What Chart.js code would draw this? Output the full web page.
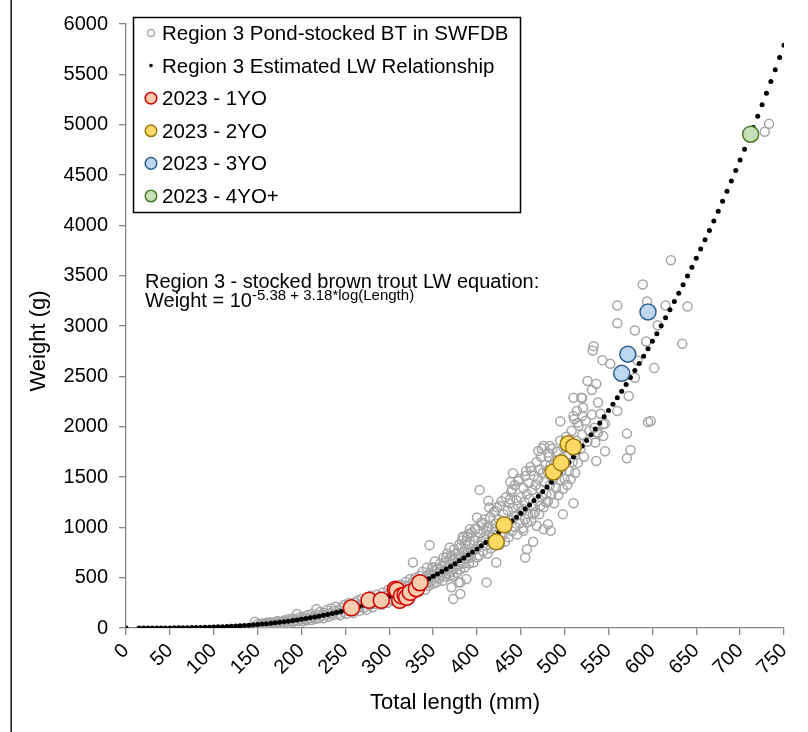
<!DOCTYPE html>
<html>
<head>
<meta charset="utf-8">
<script src="https://cdn.jsdelivr.net/npm/chart.js@4.4.0/dist/chart.umd.min.js"></script>
<style>
  html, body { margin: 0; padding: 0; background: #fff; }
</style>
</head>
<body>
<canvas id="chart" width="808" height="732"></canvas>
<script>
// Estimated LW relationship (every 5 mm)
const lwLength = [0, 15, 20, 25, 30, 35, 40, 45, 50, 55, 60, 65, 70, 75, 80, 85, 90, 95, 100,
  105, 110, 115, 120, 125, 130, 135, 140, 145, 150, 155, 160, 165, 170, 175, 180, 185, 190, 195, 200,
  205, 210, 215, 220, 225, 230, 235, 240, 245, 250, 255, 260, 265, 270, 275, 280, 285, 290, 295, 300,
  305, 310, 315, 320, 325, 330, 335, 340, 345, 350, 355, 360, 365, 370, 375, 380, 385, 390, 395, 400,
  405, 410, 415, 420, 425, 430, 435, 440, 445, 450, 455, 460, 465, 470, 475, 480, 485, 490, 495, 500,
  505, 510, 515, 520, 525, 530, 535, 540, 545, 550, 555, 560, 565, 570, 575, 580, 585, 590, 595, 600,
  605, 610, 615, 620, 625, 630, 635, 640, 645, 650, 655, 660, 665, 670, 675, 680, 685, 690, 695, 700,
  705, 710, 715, 720, 725, 730, 735, 740, 745, 750];
const lwWeight = [0, 0.02, 0.06, 0.12, 0.21, 0.34, 0.52, 0.75, 1.05, 1.43, 1.88, 2.43, 3.07, 3.83, 4.7, 5.7, 6.83, 8.11, 9.55,
  11.2, 12.9, 14.9, 17.1, 19.4, 22, 24.8, 27.8, 31.1, 34.7, 38.5, 42.6, 47, 51.6, 56.6, 61.9, 67.5, 73.5, 79.9, 86.6,
  93.6, 101, 109, 117, 126, 135, 145, 155, 165, 176, 188, 199, 212, 225, 238, 252, 267, 282, 298, 314,
  331, 349, 367, 386, 405, 426, 446, 468, 490, 513, 537, 561, 586, 612, 639, 667, 695, 724, 754, 785,
  816, 849, 882, 916, 951, 987, 1024, 1062, 1101, 1141, 1181, 1223, 1266, 1310, 1355, 1401, 1448, 1496, 1545, 1595,
  1646, 1699, 1752, 1807, 1863, 1920, 1978, 2037, 2098, 2160, 2223, 2287, 2353, 2420, 2488, 2557, 2628, 2700, 2774, 2848,
  2924, 3002, 3081, 3161, 3243, 3326, 3411, 3497, 3584, 3673, 3764, 3856, 3949, 4044, 4141, 4239, 4339, 4441, 4544, 4649,
  4755, 4863, 4972, 5083, 5197, 5311, 5428, 5546, 5666, 5788];

// Pond-stocked BT in SWFDB [length mm, weight g]
const pondSmall = [
  [147,62],[150,40],[152,28],[155,45],[157,36],[160,52],[162,40],[164,58],[166,44],[168,36],[170,60],[171,48],
  [173,70],[175,52],[176,23],[178,64],[180,48],[181,78],[183,60],[185,86],[186,52],[188,72],[190,95],[191,62],
  [193,80],[195,139],[196,70],[198,104],[199,84],[201,66],[202,112],[204,92],[206,76],[207,126],[209,98],[211,80],
  [212,140],[214,110],[216,90],[217,188],[218,128],[220,100],[221,160],[223,122],[225,96],[226,150],[228,130],[229,178],
  [231,112],[233,150],[234,196],[236,128],[238,170],[239,210],[241,140],[243,182],[244,126],[246,200],[248,160],[249,232],
  [251,142],[253,200],[254,248],[256,168],[258,222],[259,150],[261,250],[263,190],[264,272],[266,170],[268,235],[269,290],
  [271,200],[273,262],[274,180],[276,300],[278,225],[279,320],[281,205],[283,280],[284,240],[286,330],[288,250],[289,300],
  [291,230],[293,352],[294,275],[296,320],[298,250],[299,380],[301,290],[303,350],[304,270],[306,400],[308,320],[309,370],
  [311,290],[313,430],[314,345],[316,395],[318,300],[319,460],[321,360],[323,420],[324,486],[327,651],[318,420],[320,320]
];
const pondMid = [
  [324,350],[327,455],[329,395],[330,500],[332,430],[334,365],[335,520],[336,470],
  [337,410],[338,560],[339,470],[341,380],[342,515],[343,600],[344,450],[345,420],[346,545],[347,495],
  [348,470],[349,600],[350,440],[351,530],[352,660],[353,500],[354,455],[355,590],[356,545],[357,490],[358,640],
  [359,520],[360,610],[361,470],[362,700],[363,570],[364,650],[365,510],[366,740],[367,600],[368,545],[369,690],
  [370,560],[371,720],[372,640],[373,510],[374,780],[375,600],[376,690],[377,550],[378,740],[379,620],[380,830],
  [381,580],[382,700],[383,870],[384,640],[385,760],[386,600],[387,820],[388,690],[389,910],[390,760],[391,640],
  [392,830],[393,700],[394,950],[395,760],[396,650],[397,870],[398,780],[399,990],[400,700],[401,900],[402,820],
  [403,720],[404,940],[405,860],[406,1030],[407,760],[408,900],[409,1080],[410,820],[411,960],[412,740],[413,1010],
  [414,860],[415,1100],[416,790],[417,990],[418,930],[419,1150],[420,830],[421,1040],[422,960],[423,1200],[424,880],
  [425,1080],[426,830],[427,1010],[428,1260],[429,920],[430,1130],[431,1050],[432,860],[433,1300],[434,990],[435,1170],
  [436,900],[437,1240],[438,1070],[439,1350],[440,960],[441,1190],[442,1110],[443,1420],[444,1000],[445,1270],[446,930],
  [447,1210],[448,1480],[449,1040],[450,1300],[451,1160],[452,990],[453,1390],[454,1250],[455,1080],[456,1560],[457,1330],
  [458,1130],[459,1440],[460,1280],[461,1600],[462,1060],[463,1370],[464,1210],[465,1510],[466,1150],[467,1420],[468,1650],
  [469,1260],[470,1480],[471,1130],[472,1380],[473,1700],[474,1300],[475,1540],[476,1200],[477,1450],[478,1620],[479,1330],
  [480,1560],[481,1260],[482,1700],[483,1420],[484,1620],[485,1330],[486,1780],[487,1480],[488,1240],[489,1660],[490,1390],
  [491,1590],[492,1750],[493,1320],[494,1470],[495,1860],[496,1560],[497,1690],[498,1380],[499,1790],[500,1480],[501,1640],
  [502,1900],[503,1420],[504,1720],[505,1560],[506,1830],[507,1480],[508,1960],[509,1650],[511,1740],[512,1540],
  [513,1860],[515,1640],[516,2010],[518,1780],[520,1920],[522,1700],[524,2060],[526,1850],[528,1960],[531,2120],[534,1990],[538,2240]
];
const pondSpread = [
  [346,823],[345,486],[350,602],[354,585],[358,585],[365,701],[369,800],[369,519],[371,404],[373,288],[373,684],
  [379,453],[381,337],[381,453],[381,651],[381,800],[384,899],[384,909],[388,486],[388,866],[390,717],[390,932],
  [392,982],[398,982],[400,1098],[403,1372],[405,1048],[411,453],[411,998],[413,1263],[414,1197],[421,1163],[422,651],
  [426,1213],[438,1279],[438,1451],[440,1379],[441,1537],[445,1114],[447,1461],[453,1180],[453,965],[455,1510],[455,701],
  [457,1048],[457,783],[462,1560],[464,1131],[464,856],[468,1015],[470,1758],[472,1577],[472,1213],[474,1782],[476,1808],
  [476,982],[479,1247],[481,1742],[481,1031],[483,1808],[484,965],[495,2053],[498,1131],[510,1240],[510,2105],[510,2288],
  [511,2073],[514,2155],[515,2040],[520,2105],[521,2189],[519,2288],[520,2284],[526,2453],[531,2363],[532,2757],[533,2800],
  [535,1842],[536,1659],[536,2427],[537,1934],[538,1941],[541,2129],[543,2661],[544,2023],[544,1907],[546,1755],[546,2030],
  [552,2625],[560,2155],[560,3028],[560,3203],[571,1686],[571,1931],[573,2304],[575,1768],[580,2486],[580,2955],[583,2658],
  [589,3412],[593,2846],[594,3243],[595,2046],[598,2056],[602,2582],[606,3008],[615,3203],[621,3653],[634,2823],[640,3193],
  [728,4929],[733,5008]
];

// 2023 samples by age [length mm, weight g]
const age1 = [[257,200],[277,275],[291,275],[307,385],[309,375],[312,275],[314,320],[318,330],[320,305],[324,355],[331,390],[335,450]];
const age2 = [[422,856],[431,1025],[487,1550],[496,1640],[504,1830],[510,1800]];
const age3 = [[565,2530],[572,2720],[595,3140]];
const age4 = [[712,4905]];

const FONT = "'Liberation Sans', Arial, sans-serif";
const toXY = arr => arr.map(p => ({ x: p[0], y: p[1] }));

// legend box, equation text, y title and left frame line
const overlayPlugin = {
  id: 'overlay',
  afterDraw(chart) {
    const ctx = chart.ctx;
    ctx.save();
    ctx.fillStyle = '#000';
    ctx.fillRect(10.5, 0, 1.4, 732);

    // legend
    ctx.strokeStyle = '#000';
    ctx.lineWidth = 1.5;
    ctx.strokeRect(133.5, 17.5, 387, 195);
    ctx.font = '20.5px ' + FONT;
    ctx.textBaseline = 'alphabetic';
    chart.data.datasets.forEach((ds, i) => {
      const cy = 33 + i * 32.6;
      ctx.beginPath();
      ctx.arc(151, cy, ds.legendRadius, 0, Math.PI * 2);
      if (ds.backgroundColor !== 'transparent') {
        ctx.fillStyle = ds.backgroundColor;
        ctx.fill();
      }
      if (ds.borderWidth > 0) {
        ctx.strokeStyle = ds.borderColor;
        ctx.lineWidth = ds.borderWidth;
        ctx.stroke();
      }
      ctx.fillStyle = '#000';
      ctx.fillText(ds.label, 162, cy + 7);
    });

    // equation
    ctx.font = '20px ' + FONT;
    ctx.fillText('Region 3 - stocked brown trout LW equation:', 145, 288);
    const base = 'Weight = 10';
    ctx.fillText(base, 145, 307);
    const w = ctx.measureText(base).width;
    ctx.font = '15px ' + FONT;
    ctx.fillText('-5.38 + 3.18*log(Length)', 145 + w, 300);

    // y axis title
    ctx.font = '22px ' + FONT;
    ctx.translate(39, 341);
    ctx.rotate(-Math.PI / 2);
    ctx.textAlign = 'center';
    ctx.textBaseline = 'middle';
    ctx.fillText('Weight (g)', 0, 0);
    ctx.restore();
  }
};

new Chart(document.getElementById('chart'), {
  type: 'scatter',
  data: {
    datasets: [
      {
        label: 'Region 3 Pond-stocked BT in SWFDB',
        data: toXY(pondSmall.concat(pondMid, pondSpread)),
        pointRadius: 4.5,
        borderWidth: 1.5,
        borderColor: '#a6a6a6',
        backgroundColor: 'transparent',
        legendRadius: 3.5,
        order: 5
      },
      {
        label: 'Region 3 Estimated LW Relationship',
        data: lwLength.map((l, i) => ({ x: l, y: lwWeight[i] })),
        pointRadius: 2.5,
        borderWidth: 0,
        borderColor: '#000',
        backgroundColor: '#000',
        legendRadius: 1.8,
        order: 4
      },
      {
        label: '2023 - 1YO',
        data: toXY(age1),
        pointRadius: 8,
        borderWidth: 1.5,
        borderColor: '#d00000',
        backgroundColor: '#f8cbad',
        legendRadius: 5.8,
        order: 3
      },
      {
        label: '2023 - 2YO',
        data: toXY(age2),
        pointRadius: 8,
        borderWidth: 1.5,
        borderColor: '#9c7a10',
        backgroundColor: '#ffd966',
        legendRadius: 5.8,
        order: 2
      },
      {
        label: '2023 - 3YO',
        data: toXY(age3),
        pointRadius: 8,
        borderWidth: 1.5,
        borderColor: '#2f5f8f',
        backgroundColor: '#bdd7ee',
        legendRadius: 5.8,
        order: 1
      },
      {
        label: '2023 - 4YO+',
        data: toXY(age4),
        pointRadius: 8,
        borderWidth: 1.5,
        borderColor: '#4f7a30',
        backgroundColor: '#c5e0b4',
        legendRadius: 5.8,
        order: 0
      }
    ]
  },
  options: {
    responsive: false,
    animation: false,
    events: [],
    layout: { padding: { top: 24, right: 24, left: 0, bottom: 0 } },
    scales: {
      x: {
        type: 'linear',
        min: 0,
        max: 750,
        afterFit: s => { s.height = 104; },
        ticks: {
          stepSize: 50,
          autoSkip: false,
          maxRotation: 45,
          minRotation: 45,
          padding: 4,
          color: '#000',
          font: { family: FONT, size: 20 },
          callback: v => String(v)
        },
        grid: { drawOnChartArea: false, drawTicks: true, tickLength: 7, color: '#868686', lineWidth: 1.3 },
        border: { color: '#868686', width: 1.3 },
        title: {
          display: true,
          text: 'Total length (mm)',
          color: '#000',
          font: { family: FONT, size: 22 },
          padding: { top: 0, bottom: 16 }
        }
      },
      y: {
        min: 0,
        max: 6000,
        afterFit: s => { s.width = 126; },
        ticks: {
          stepSize: 500,
          padding: 11,
          color: '#000',
          font: { family: FONT, size: 20 },
          callback: v => String(v)
        },
        grid: { drawOnChartArea: false, drawTicks: true, tickLength: 7, color: '#868686', lineWidth: 1.3 },
        border: { color: '#868686', width: 1.3 }
      }
    },
    plugins: {
      legend: { display: false },
      tooltip: { enabled: false }
    }
  },
  plugins: [overlayPlugin]
});
</script>
</body>
</html>
